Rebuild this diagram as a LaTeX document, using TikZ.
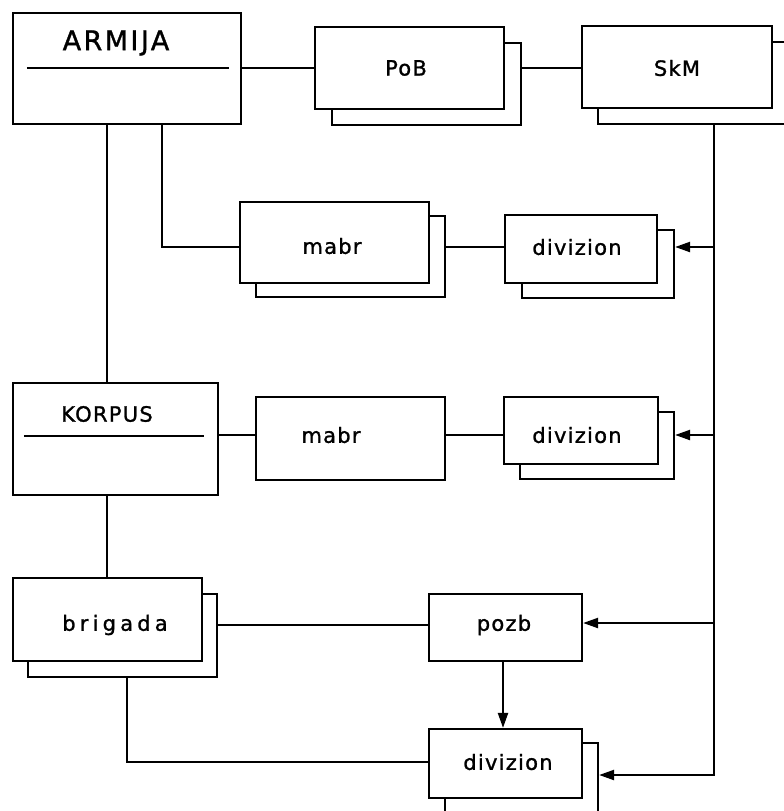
\documentclass[tikz,border=0pt]{standalone}
\usepackage{fontspec}
\setmainfont{DejaVu Sans}
\newfontfamily\lblfont{DejaVu Sans}[LetterSpace=6,FakeBold=1.2]
\newfontfamily\capfont{DejaVu Sans}[LetterSpace=9,FakeBold=1.2]
\newfontfamily\widefont{DejaVu Sans}[LetterSpace=20,FakeBold=1.2]
\usetikzlibrary{arrows.meta,calc}
\begin{document}
\begin{tikzpicture}[x=1pt,y=-1pt,
  box/.style={draw, line width=2.2pt, fill=white, inner sep=0pt},
  lbl/.style={inner sep=0pt, font=\lblfont\fontsize{21}{21}\selectfont},
  conn/.style={line width=2.2pt},
  arr/.style={conn, -{Triangle[length=15pt,width=10pt]}}]
\useasboundingbox (0,0) rectangle (784,811);
% helper coordinates
\coordinate (xA) at (107,0);
\coordinate (xB) at (162,0);
\coordinate (xC) at (127,0);
\coordinate (xP) at (503,0);
\coordinate (vx) at (714,0);
\coordinate (r2) at (0,247);
\coordinate (r3) at (0,435);
\coordinate (rb) at (0,625);
\coordinate (rp) at (0,623);
\coordinate (r5) at (0,762);
\coordinate (r4) at (0,775);
% ARMIJA
\node[box, minimum width=228pt, minimum height=111pt] (armija) at (127,68.5) {};
\node[inner sep=0pt, font=\capfont\fontsize{27}{27}\selectfont] (armijaT) at (116,43) {ARMIJA};
\draw[line width=1.8pt] ($(armija.west)+(15,-0.5)$) -- ($(armija.east)+(-13,-0.5)$);
% PoB
\node[box, minimum width=189pt, minimum height=82pt] (pobB) at (426.5,84) {};
\node[box, minimum width=189pt, minimum height=82pt] (pob) at (409.5,68) {};
\node[lbl] (pobT) at (406,68) {PoB};
% SkM
\node[box, minimum width=190pt, minimum height=82pt] (skmB) at (693,83) {};
\node[box, minimum width=190pt, minimum height=82pt] (skm) at (677,67) {};
\node[lbl] (skmT) at (677,68) {SkM};
% mabr row 2
\node[box, minimum width=189pt, minimum height=81pt] (mabr2B) at (350.5,256.5) {};
\node[box, minimum width=189pt, minimum height=81pt] (mabr2) at (334.5,242.5) {};
\node[lbl] (mabr2T) at (332,246) {mabr};
% divizion row 2
\node[box, minimum width=152pt, minimum height=68pt] (div2B) at (598,264) {};
\node[box, minimum width=152pt, minimum height=68pt] (div2) at (581,249) {};
\node[lbl] (div2T) at (577,247) {divizion};
% KORPUS
\node[box, minimum width=205pt, minimum height=112pt] (korpus) at (115.5,439) {};
\node[inner sep=0pt, font=\lblfont\fontsize{21}{21}\selectfont] (korpusT) at (107,414) {KORPUS};
\draw[line width=1.8pt] ($(korpus.west)+(12,-3)$) -- ($(korpus.east)+(-15,-3)$);
% mabr row 3
\node[box, minimum width=189pt, minimum height=83pt] (mabr3) at (350.5,438.5) {};
\node[lbl] (mabr3T) at (331,435) {mabr};
% divizion row 3
\node[box, minimum width=154pt, minimum height=67pt] (div3B) at (597,445.5) {};
\node[box, minimum width=154pt, minimum height=67pt] (div3) at (581,430.5) {};
\node[lbl] (div3T) at (577,435) {divizion};
% brigada
\node[box, minimum width=189pt, minimum height=83pt] (brigadaB) at (122.5,635.5) {};
\node[box, minimum width=189pt, minimum height=83pt] (brigada) at (107.5,619.5) {};
\node[inner sep=0pt, font=\widefont\fontsize{21}{21}\selectfont] (brigadaT) at (115,625) {brigada};
% pozb
\node[box, minimum width=153pt, minimum height=67pt] (pozb) at (505.5,627.5) {};
\node[lbl] (pozbT) at (504,625) {pozb};
% divizion bottom
\node[box, minimum width=153pt, minimum height=69pt] (div4B) at (521.5,777.5) {};
\node[box, minimum width=153pt, minimum height=69pt] (div4) at (505.5,763.5) {};
\node[lbl] (div4T) at (508,762) {divizion};
% connectors
\draw[conn] (pob.west -| armija.east) -- (pob.west);
\draw[conn] (pobB.east |- pob.west) -- (skm.west |- pob.west);
\draw[conn] (armija.south -| xA) -- (korpus.north -| xA);
\draw[conn] (armija.south -| xB) |- (mabr2.west |- r2);
\draw[conn] (mabr2B.east |- r2) -- (div2.west |- r2);
\draw[conn] (korpus.east |- r3) -- (mabr3.west |- r3);
\draw[conn] (mabr3.east |- r3) -- (div3.west |- r3);
\draw[conn] (korpus.south -| xA) -- (brigada.north -| xA);
\draw[conn] (brigadaB.east |- rb) -- (pozb.west |- rb);
\draw[conn] (brigadaB.south -| xC) |- (div4.west |- r5);
\draw[arr] (skmB.south -| vx) |- (div4B.east |- r4);
\draw[arr] (vx |- r2) -- (div2B.east |- r2);
\draw[arr] (vx |- r3) -- (div3B.east |- r3);
\draw[arr] (vx |- rp) -- (pozb.east |- rp);
\draw[arr] (pozb.south -| xP) -- (div4.north -| xP);
\end{tikzpicture}
\end{document}
